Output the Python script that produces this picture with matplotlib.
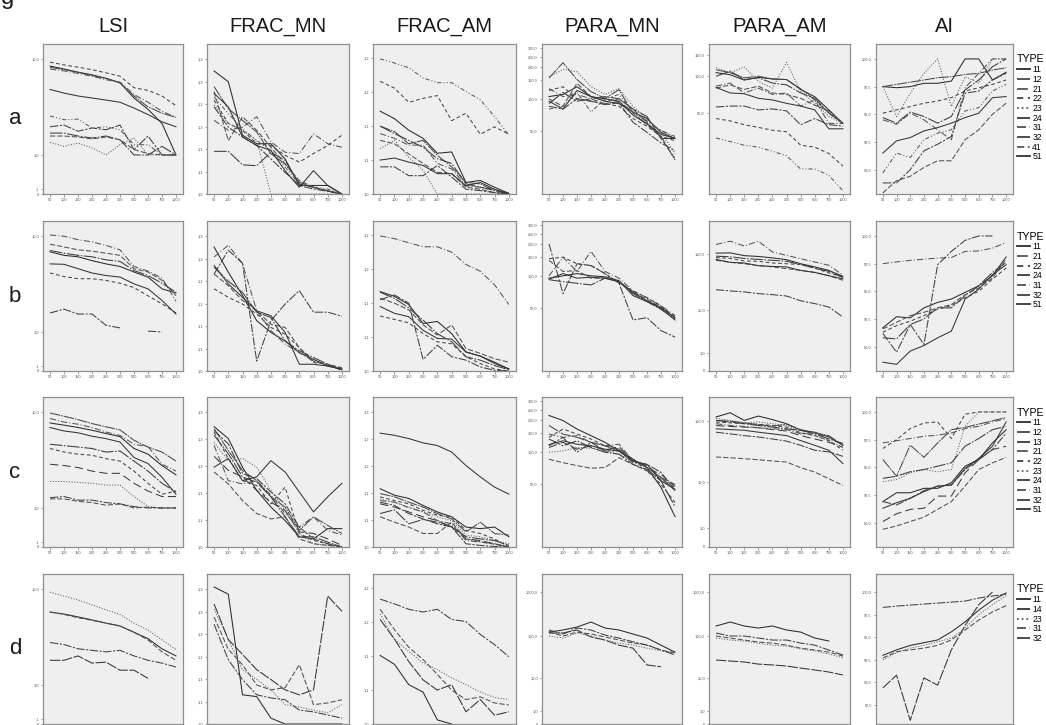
import numpy as np
import matplotlib.pyplot as plt
from matplotlib.ticker import NullLocator

plt.rcParams.update({'font.family': ['Liberation Sans', 'DejaVu Sans']})

nan = np.nan
sizes = ['50', '100', '150', '200', '250', '300', '500', '600', '750', '1000']
metrics = ['LSI', 'FRAC_MN', 'FRAC_AM', 'PARA_MN', 'PARA_AM', 'AI']
rows = ['a', 'b', 'c', 'd']

types_a = ['11', '12', '21', '22', '23', '24', '31', '32', '41', '51']
types_b = ['11', '21', '22', '24', '31', '32', '51']
types_c = ['11', '12', '13', '21', '22', '23', '24', '31', '32', '51']
types_d = ['11', '14', '23', '31', '32']

# ---------------- row a
a_lsi = {
    '11': [8.7, 8.2, 7.7, 7.3, 6.8, 6.2, 4.5, 3.5, 2.5, 1.0],
    '12': [8.5, 8.1, 7.7, 7.2, 6.8, 6.2, 4.7, 3.7, 3.2, 2.9],
    '21': [8.2, 7.9, 7.5, 7.1, 6.6, 6.3, 4.85, 4.1, 3.35, 2.9],
    '22': [9.4, 8.9, 8.5, 8.1, 7.6, 7.1, 5.6, 5.3, 4.7, 3.8],
    '23': [1.5, 1.33, 1.47, 1.27, 1.0, 1.4, 1.7, 1.0, 1.0, 1.0],
    '24': [1.95, 1.95, 1.8, 1.7, 1.8, 1.62, 1.0, 1.0, 1.33, 1.0],
    '31': [1.8, 1.8, 1.75, 1.66, 1.75, 1.62, 1.2, 1.05, 1.0, 1.0],
    '32': [2.3, 2.4, 2.05, 2.23, 2.13, 2.4, 1.2, 1.8, 1.0, 1.0],
    '41': [3.0, 2.74, 2.78, 2.23, 2.3, 2.13, 1.4, 1.4, 1.0, 1.0],
    '51': [5.4, 5.0, 4.7, 4.5, 4.3, 4.1, 3.6, 3.1, 2.6, 2.3],
}
a_frac_mn = {
    '11': [1.274, 1.25, 1.131, 1.112, 1.112, 1.078, 1.019, 1.019, 1.019, 1.0],
    '12': [1.239, 1.19, 1.164, 1.138, 1.09, 1.067, 1.026, 1.015, 1.007, 1.0],
    '21': [1.164, 1.142, 1.149, 1.172, 1.116, 1.093, 1.09, 1.134, 1.112, 1.104],
    '22': [1.209, 1.157, 1.142, 1.112, 1.108, 1.086, 1.071, 1.09, 1.108, 1.131],
    '23': [1.198, 1.157, 1.142, 1.119, 1.0, 1.0, 1.0, 1.0, 1.0, 1.0],
    '24': [1.095, 1.095, 1.065, 1.063, 1.093, 1.075, 1.022, 1.015, 1.007, 1.0],
    '31': [1.228, 1.119, 1.172, 1.142, 1.104, 1.067, 1.03, 1.015, 1.007, 1.0],
    '32': [1.194, 1.149, 1.127, 1.108, 1.078, 1.048, 1.019, 1.011, 1.006, 1.0],
    '41': [1.216, 1.179, 1.145, 1.119, 1.097, 1.06, 1.022, 1.015, 1.011, 1.0],
    '51': [1.224, 1.194, 1.127, 1.108, 1.097, 1.052, 1.015, 1.052, 1.019, 1.0],
}
a_frac_am = {
    '11': [1.122, 1.111, 1.094, 1.082, 1.06, 1.062, 1.017, 1.02, 1.01, 1.001],
    '12': [1.1, 1.092, 1.074, 1.079, 1.057, 1.04, 1.017, 1.015, 1.005, 1.0],
    '21': [1.089, 1.082, 1.072, 1.072, 1.045, 1.037, 1.012, 1.01, 1.005, 1.0],
    '22': [1.166, 1.156, 1.135, 1.141, 1.145, 1.108, 1.119, 1.088, 1.099, 1.088],
    '23': [1.067, 1.079, 1.054, 1.035, 1.0, 1.0, 1.0, 1.0, 1.0, 1.0],
    '24': [1.1, 1.089, 1.079, 1.069, 1.052, 1.045, 1.015, 1.01, 1.006, 1.001],
    '31': [1.079, 1.074, 1.059, 1.045, 1.032, 1.03, 1.01, 1.007, 1.002, 1.0],
    '32': [1.04, 1.04, 1.027, 1.027, 1.042, 1.025, 1.007, 1.005, 1.002, 1.0],
    '41': [1.199, 1.193, 1.186, 1.171, 1.164, 1.164, 1.151, 1.139, 1.114, 1.087],
    '51': [1.05, 1.053, 1.047, 1.042, 1.03, 1.03, 1.012, 1.017, 1.007, 1.0],
}
a_para_mn = {
    '11': [105, 110, 130, 105, 95, 90, 75, 65, 48, 42],
    '12': [157, 219, 152, 117, 101, 122, 73, 57, 44, 26],
    '21': [125, 105, 110, 100, 90, 95, 75, 62, 50, 44],
    '22': [120, 130, 100, 95, 90, 85, 65, 55, 44, 40],
    '23': [160, 190, 180, 130, 110, 125, 85, 65, 48, 30],
    '24': [90, 115, 95, 100, 105, 100, 80, 68, 42, 42],
    '31': [100, 85, 140, 105, 95, 100, 80, 60, 42, 27],
    '32': [85, 80, 100, 95, 88, 92, 60, 48, 38, 32],
    '41': [80, 85, 115, 75, 100, 110, 75, 60, 50, 43],
    '51': [95, 80, 120, 105, 100, 95, 70, 58, 46, 42],
}
a_para_am = {
    '11': [107, 103, 93, 98, 95, 94, 78, 68, 53, 41],
    '12': [113, 107, 97, 100, 95, 94, 79, 64, 50, 41],
    '21': [83, 88, 73, 80, 71, 73, 57, 64, 41, 41],
    '22': [45, 43, 40, 38, 36, 35, 27, 26, 23, 18],
    '23': [117, 107, 119, 91, 80, 130, 75, 60, 47, 41],
    '24': [100, 110, 94, 97, 88, 85, 73, 66, 50, 41],
    '31': [80, 85, 78, 83, 73, 71, 66, 58, 52, 41],
    '32': [56, 57, 57, 53, 54, 52, 40, 45, 40, 39],
    '41': [31, 29, 27, 26, 24, 22, 17, 17, 15, 11],
    '51': [81, 73, 72, 66, 64, 60, 57, 53, 37, 37],
}
a_ai = {
    '11': [97.5, 97.4, 97.5, 97.8, 97.8, 98.0, 100.0, 100.0, 98.1, 98.8],
    '12': [97.5, 97.7, 97.9, 98.1, 98.3, 98.4, 98.6, 98.7, 99.0, 99.2],
    '21': [94.5, 94.1, 95.1, 94.5, 93.6, 92.7, 97.4, 98.7, 100.0, 100.0],
    '22': [95.1, 95.4, 95.7, 96.0, 96.2, 96.5, 97.1, 97.4, 97.7, 98.1],
    '23': [97.5, 94.8, 96.9, 98.7, 100.0, 95.7, 98.4, 97.8, 100.0, 100.0],
    '24': [94.7, 94.2, 95.2, 94.8, 94.2, 94.8, 97.2, 98.1, 99.3, 100.0],
    '31': [87.9, 89.0, 89.4, 90.2, 90.8, 90.8, 92.7, 93.6, 95.0, 96.0],
    '32': [88.8, 88.8, 90.0, 91.7, 92.3, 93.0, 96.9, 97.1, 98.1, 98.7],
    '41': [89.7, 91.5, 91.1, 92.7, 93.3, 93.6, 95.3, 95.6, 97.1, 97.7],
    '51': [91.5, 92.6, 92.9, 93.5, 93.8, 94.2, 94.7, 95.1, 96.5, 96.6],
}

# ---------------- row b
b_lsi = {
    '11': [7.3, 6.8, 6.6, 6.1, 5.7, 5.4, 4.8, 4.3, 3.3, 3.0],
    '21': [10.2, 9.95, 9.3, 8.9, 8.3, 7.6, 5.4, 4.9, 4.2, 2.45],
    '22': [4.7, 4.35, 4.15, 4.15, 4.0, 3.75, 3.4, 2.8, 2.3, 1.8],
    '24': [7.5, 7.1, 6.8, 6.6, 6.2, 6.0, 4.95, 4.45, 3.75, 3.05],
    '31': [8.5, 8.05, 7.6, 7.4, 7.1, 6.8, 5.15, 4.8, 4.0, 2.8],
    '32': [1.8, 2.0, 1.75, 1.75, 1.25, 1.15, nan, 1.03, 1.0, nan],
    '51': [5.7, 5.65, 5.15, 4.7, 4.45, 4.3, 3.7, 3.3, 2.5, 1.75],
}
b_frac_mn = {
    '11': [1.276, 1.22, 1.168, 1.112, 1.086, 1.067, 1.041, 1.026, 1.011, 1.004],
    '21': [1.254, 1.28, 1.239, 1.134, 1.09, 1.06, 1.041, 1.022, 1.015, 1.004],
    '22': [1.183, 1.164, 1.149, 1.127, 1.097, 1.082, 1.052, 1.019, 1.015, 1.007],
    '24': [1.231, 1.2, 1.175, 1.131, 1.119, 1.067, 1.045, 1.03, 1.015, 1.001],
    '31': [1.216, 1.19, 1.157, 1.134, 1.104, 1.097, 1.052, 1.022, 1.013, 1.007],
    '32': [1.216, 1.269, 1.24, 1.022, 1.112, 1.149, 1.179, 1.131, 1.131, 1.122],
    '51': [1.235, 1.194, 1.164, 1.134, 1.123, 1.086, 1.015, 1.015, 1.011, 1.004],
}
b_frac_am = {
    '11': [1.117, 1.11, 1.098, 1.07, 1.073, 1.055, 1.028, 1.022, 1.013, 1.003],
    '21': [1.199, 1.195, 1.189, 1.183, 1.183, 1.175, 1.157, 1.147, 1.127, 1.098],
    '22': [1.081, 1.076, 1.071, 1.055, 1.043, 1.04, 1.021, 1.011, 1.003, 1.0],
    '24': [1.116, 1.107, 1.093, 1.075, 1.055, 1.043, 1.021, 1.016, 1.008, 1.002],
    '31': [1.107, 1.1, 1.09, 1.068, 1.053, 1.068, 1.033, 1.026, 1.018, 1.013],
    '32': [1.105, 1.112, 1.1, 1.017, 1.038, 1.021, 1.016, 1.006, 1.001, 1.0],
    '51': [1.095, 1.085, 1.08, 1.06, 1.048, 1.047, 1.028, 1.022, 1.011, 1.003],
}
b_para_mn = {
    '11': [95, 100, 105, 100, 98, 90, 65, 57, 49, 38],
    '21': [100, 150, 110, 170, 110, 95, 72, 62, 52, 42],
    '22': [145, 150, 130, 125, 105, 85, 72, 62, 52, 40],
    '24': [92, 88, 85, 82, 95, 88, 68, 57, 48, 39],
    '31': [140, 110, 112, 95, 95, 88, 70, 60, 50, 41],
    '32': [200, 68, 130, 125, 105, 85, 38, 40, 30, 26],
    '51': [93, 105, 95, 97, 95, 88, 70, 58, 50, 40],
}
b_para_am = {
    '11': [104, 105, 94, 91, 86, 80, 68, 60, 52, 41],
    '21': [147, 167, 138, 167, 109, 95, 83, 73, 64, 43],
    '22': [87, 84, 76, 75, 70, 68, 66, 57, 47, 40],
    '24': [92, 90, 84, 81, 78, 75, 66, 57, 50, 39],
    '31': [78, 72, 68, 63, 60, 56, 52, 48, 42, 35],
    '32': [23.8, 22.6, 21.7, 20.2, 19.4, 18.3, 15.0, 13.3, 11.5, 7.4],
    '51': [81, 72, 70, 63, 61, 60, 52, 48, 42, 37],
}
b_ai = {
    '11': [91.7, 92.7, 92.6, 93.5, 94.0, 94.3, 94.9, 95.5, 96.4, 98.1],
    '21': [97.5, 97.65, 97.8, 97.9, 98.0, 98.05, 98.6, 98.65, 98.9, 99.4],
    '22': [91.3, 91.9, 92.3, 92.8, 93.4, 93.7, 94.4, 95.0, 96.1, 97.1],
    '24': [90.8, 90.7, 92.0, 92.5, 93.5, 93.5, 94.6, 95.5, 96.7, 97.6],
    '31': [91.6, 92.2, 92.8, 93.1, 93.5, 93.8, 94.7, 95.3, 96.2, 97.9],
    '32': [91.2, 89.5, 92.0, 90.2, 97.4, 98.6, 99.6, 100.0, 100.0, nan],
    '51': [88.6, 88.4, 89.6, 90.1, 90.8, 91.4, 94.3, 95.2, 96.5, 97.4],
}

# ---------------- row c
c_lsi = {
    '11': [8.05, 7.7, 7.35, 6.95, 6.5, 6.1, 4.75, 4.2, 3.25, 2.6],
    '12': [9.8, 9.2, 8.6, 7.95, 7.45, 7.0, 5.65, 4.9, 4.4, 3.6],
    '13': [3.35, 3.25, 3.1, 2.85, 2.7, 2.7, 2.1, 1.7, 1.45, 1.45],
    '21': [8.8, 8.2, 7.85, 7.35, 6.7, 6.25, 5.2, 4.95, 3.35, 2.85],
    '22': [4.75, 4.4, 4.2, 4.1, 3.8, 3.6, 2.85, 2.1, 1.55, 1.7],
    '23': [2.2, 2.2, 2.15, 2.1, 2.0, 2.0, 1.45, 1.05, 1.0, 1.0],
    '24': [5.2, 5.05, 4.9, 4.75, 4.4, 4.5, 3.6, 2.85, 2.1, 1.65],
    '31': [1.35, 1.35, 1.25, 1.2, 1.1, 1.15, 1.0, 1.03, 1.0, 1.0],
    '32': [1.4, 1.45, 1.3, 1.3, 1.2, 1.15, 1.05, 1.0, 1.0, 1.0],
    '51': [7.35, 6.85, 6.6, 6.15, 5.85, 5.45, 3.9, 3.4, 2.45, 1.55],
}
c_frac_mn = {
    '11': [1.223, 1.201, 1.148, 1.105, 1.074, 1.049, 1.019, 1.015, 1.034, 1.034],
    '12': [1.219, 1.179, 1.142, 1.123, 1.093, 1.074, 1.031, 1.056, 1.04, 1.025],
    '13': [1.168, 1.142, 1.13, 1.105, 1.083, 1.068, 1.028, 1.025, 1.015, 1.003],
    '21': [1.188, 1.123, 1.117, 1.123, 1.096, 1.062, 1.037, 1.056, 1.031, 1.022],
    '22': [1.213, 1.164, 1.123, 1.114, 1.08, 1.111, 1.025, 1.012, 1.006, 1.0],
    '23': [1.194, 1.16, 1.164, 1.148, 1.105, 1.068, 1.025, 1.006, 1.003, 1.0],
    '24': [1.207, 1.173, 1.13, 1.12, 1.093, 1.056, 1.019, 1.019, 1.009, 1.0],
    '31': [1.139, 1.117, 1.086, 1.062, 1.052, 1.056, 1.015, 1.006, 1.003, 1.0],
    '32': [1.216, 1.191, 1.136, 1.127, 1.102, 1.08, 1.037, 1.015, 1.006, 1.0],
    '51': [1.148, 1.164, 1.123, 1.13, 1.16, 1.139, 1.102, 1.065, 1.093, 1.118],
}
c_frac_am = {
    '11': [1.108, 1.096, 1.09, 1.077, 1.065, 1.056, 1.037, 1.034, 1.037, 1.019],
    '12': [1.099, 1.093, 1.083, 1.074, 1.062, 1.052, 1.028, 1.046, 1.025, 1.022],
    '13': [1.08, 1.074, 1.065, 1.056, 1.049, 1.037, 1.015, 1.012, 1.006, 1.0],
    '21': [1.086, 1.083, 1.073, 1.065, 1.049, 1.043, 1.012, 1.009, 1.006, 1.0],
    '22': [1.093, 1.086, 1.08, 1.068, 1.059, 1.056, 1.031, 1.025, 1.015, 1.0],
    '23': [1.089, 1.083, 1.074, 1.065, 1.056, 1.049, 1.022, 1.019, 1.012, 1.006],
    '24': [1.062, 1.069, 1.043, 1.051, 1.046, 1.038, 1.019, 1.015, 1.012, 1.003],
    '31': [1.056, 1.046, 1.037, 1.025, 1.025, 1.046, 1.015, 1.01, 1.005, 1.0],
    '32': [1.083, 1.077, 1.062, 1.052, 1.043, 1.037, 1.006, 1.003, 1.001, 1.0],
    '51': [1.211, 1.207, 1.201, 1.193, 1.188, 1.176, 1.151, 1.13, 1.111, 1.098],
}
c_para_mn = {
    '11': [220, 197, 164, 142, 123, 102, 85, 71, 46, 24],
    '12': [177, 147, 137, 123, 114, 106, 85, 71, 57, 43],
    '13': [110, 123, 106, 114, 104, 112, 82, 74, 57, 49],
    '21': [147, 137, 142, 123, 114, 118, 82, 71, 61, 47],
    '22': [137, 164, 147, 132, 114, 102, 85, 66, 49, 33],
    '23': [99, 102, 110, 108, 102, 95, 82, 71, 57, 47],
    '24': [132, 114, 127, 110, 99, 95, 76, 68, 53, 30],
    '31': [85, 79, 74, 70, 71, 88, 76, 66, 55, 46],
    '32': [114, 137, 99, 123, 102, 102, 79, 76, 64, 43],
    '51': [117, 127, 118, 114, 106, 102, 82, 76, 53, 44],
}
c_para_am = {
    '11': [118, 138, 104, 122, 107, 92, 72, 67, 56, 41],
    '12': [104, 101, 95, 89, 84, 90, 74, 65, 59, 41],
    '13': [86, 83, 81, 79, 74, 70, 59, 52, 46, 38],
    '21': [92, 86, 83, 79, 76, 74, 63, 63, 56, 41],
    '22': [98, 95, 92, 90, 86, 81, 65, 59, 49, 34],
    '23': [112, 104, 95, 98, 92, 86, 67, 59, 49, 38],
    '24': [104, 98, 92, 86, 81, 76, 72, 63, 52, 44],
    '31': [26.3, 25.6, 24.7, 23.7, 22.6, 21.7, 17.5, 14.7, 11.3, 8.6],
    '32': [67, 63, 59, 56, 52, 48, 41, 34, 32, 27],
    '51': [76, 74, 72, 67, 63, 59, 49, 41, 34, 20.5],
}
c_ai = {
    '11': [91.9, 92.7, 92.7, 93.1, 93.1, 93.6, 95.1, 95.7, 97.2, 98.4],
    '12': [95.7, 94.2, 97.0, 95.9, 97.2, 98.4, 98.6, 98.9, 99.2, 99.5],
    '13': [90.1, 90.8, 91.2, 91.3, 92.4, 92.4, 94.5, 95.7, 96.6, 96.9],
    '21': [97.2, 97.4, 97.6, 97.8, 97.9, 98.1, 98.5, 98.7, 99.1, 99.4],
    '22': [96.7, 97.5, 98.5, 99.0, 99.1, 97.6, 99.8, 100.0, 100.0, 100.0],
    '23': [93.7, 93.9, 94.5, 94.8, 94.6, 94.8, 98.7, 100.0, 100.0, 100.0],
    '24': [94.0, 94.2, 94.6, 94.8, 95.1, 95.4, 96.9, 97.6, 98.4, 98.7],
    '31': [89.4, 89.7, 90.1, 90.5, 91.2, 91.9, 93.3, 94.8, 95.4, 95.9],
    '32': [91.9, 91.6, 92.2, 92.9, 93.3, 93.4, 94.8, 95.7, 96.6, 98.1],
    '51': [91.3, 91.8, 92.2, 92.8, 93.3, 93.4, 94.9, 95.8, 96.9, 99.1],
}

# ---------------- row d
d_lsi = {
    '11': [6.3, 6.05, 5.7, 5.35, 5.0, 4.7, 4.1, 3.55, 2.8, 2.35],
    '14': [2.1, 2.1, 2.35, 1.95, 2.0, 1.6, 1.6, 1.25, nan, nan],
    '23': [9.4, 8.7, 8.05, 7.3, 6.6, 6.0, 5.0, 4.3, 3.45, 2.75],
    '31': [6.3, 6.0, 5.6, 5.3, 5.0, 4.7, 4.1, 3.45, 2.6, 2.1],
    '32': [3.25, 3.1, 2.8, 2.7, 2.6, 2.7, 2.35, 2.1, 1.95, 1.75],
}
d_frac_mn = {
    '11': [1.305, 1.289, 1.065, 1.061, 1.013, 1.0, 1.0, 1.0, 1.0, 1.0],
    '14': [1.267, 1.188, 1.155, 1.121, 1.099, 1.076, 1.065, 1.076, 1.285, 1.251],
    '23': [1.256, 1.188, 1.121, 1.099, 1.076, 1.043, 1.038, 1.031, 1.025, 1.043],
    '31': [1.238, 1.166, 1.132, 1.087, 1.076, 1.081, 1.132, 1.043, 1.047, 1.054],
    '32': [1.222, 1.143, 1.099, 1.065, 1.058, 1.054, 1.031, 1.027, 1.02, 1.013],
}
d_frac_am = {
    '11': [1.101, 1.088, 1.058, 1.047, 1.006, 1.0, nan, nan, nan, nan],
    '14': [1.154, 1.125, 1.092, 1.065, 1.05, 1.058, 1.018, 1.036, 1.013, 1.018],
    '23': [1.162, 1.125, 1.107, 1.09, 1.08, 1.068, 1.058, 1.047, 1.039, 1.036],
    '31': [1.169, 1.139, 1.113, 1.095, 1.073, 1.05, 1.036, 1.04, 1.031, 1.028],
    '32': [1.184, 1.177, 1.169, 1.165, 1.169, 1.154, 1.151, 1.132, 1.117, 1.099],
}
d_para_mn = {
    '11': [122, 136, 159, 207, 151, 136, 110, 89, 61, 42],
    '14': [116, 116, 136, 94, 80, 61, 52, 21, 19, nan],
    '23': [99, 89, 116, 99, 80, 68, 61, 52, 45, 42],
    '31': [122, 99, 122, 110, 94, 80, 68, 62, 47, 40],
    '32': [136, 110, 151, 136, 104, 89, 73, 61, 47, 36],
}
d_para_am = {
    '11': [168, 207, 168, 151, 168, 136, 122, 89, 76, nan],
    '14': [27.5, 26, 24.7, 22, 21, 19.8, 17.7, 15.9, 14.2, 12],
    '23': [89, 80, 76, 68, 61, 58, 50, 45, 38, 31],
    '31': [99, 89, 80, 72, 68, 61, 52, 47, 42, 34],
    '32': [116, 99, 99, 89, 80, 80, 68, 61, 47, 36],
}
d_ai = {
    '11': [93.0, 93.6, 94.1, 94.4, 94.7, 95.6, 96.7, 98.0, 99.1, 99.9],
    '14': [89.4, 90.8, 85.8, 90.5, 89.7, 93.6, 96.3, 98.6, 100.0, nan],
    '23': [92.5, 93.3, 93.8, 94.1, 94.5, 94.9, 96.0, 97.5, 98.6, 99.6],
    '31': [92.7, 93.4, 93.6, 93.8, 94.1, 94.7, 95.8, 96.9, 97.8, 98.5],
    '32': [98.3, 98.45, 98.56, 98.67, 98.78, 98.89, 99.0, 99.34, 99.56, 99.78],
}

panels = {
    'a': [a_lsi, a_frac_mn, a_frac_am, a_para_mn, a_para_am, a_ai],
    'b': [b_lsi, b_frac_mn, b_frac_am, b_para_mn, b_para_am, b_ai],
    'c': [c_lsi, c_frac_mn, c_frac_am, c_para_mn, c_para_am, c_ai],
    'd': [d_lsi, d_frac_mn, d_frac_am, d_para_mn, d_para_am, d_ai],
}
row_types = {'a': types_a, 'b': types_b, 'c': types_c, 'd': types_d}

# line style per landscape type (SPSS-like grey patterns)
styles = {
    '11': ('-', '#2b2b2b'), '12': ((0, (10, 1, 1.5, 1)), '#484848'),
    '13': ((0, (8, 4)), '#3c3c3c'), '14': ((0, (10, 1.5)), '#333333'),
    '21': ((0, (6, 2, 1, 2)), '#555555'), '22': ((0, (3.5, 2.5)), '#444444'),
    '23': ((0, (1, 1.6)), '#5e5e5e'), '24': ((0, (12, 1.5, 1.5, 1.5)), '#3a3a3a'),
    '31': ((0, (5, 2)), '#505050'), '32': ((0, (8, 1.5, 2, 1.5)), '#404040'),
    '41': ((0, (4, 2, 1, 2, 1, 2)), '#5a5a5a'), '51': ('-', '#353535'),
}


def fwd(y):
    return np.log10(np.maximum(y, 0) + 1)


def inv(z):
    return 10 ** z - 1


def lab(v):
    if v == 0:
        return '0'
    s = f'{v:.1f}'.replace('.', ',')
    return s[1:] if s.startswith('0,') else s


def setup(ax, metric, row):
    if metric in ('LSI', 'PARA_MN', 'PARA_AM'):
        ax.set_yscale('function', functions=(fwd, inv))
    if metric == 'LSI':
        lim, ticks = (0, 13.35), [0, 0.1, 1, 10]
    elif metric == 'FRAC_MN':
        if row == 'c':
            lim, ticks = (1.0, 1.278), np.arange(1.0, 1.2501, 0.05)
        else:
            lim, ticks = (1.0, 1.334), np.arange(1.0, 1.3001, 0.05)
    elif metric == 'FRAC_AM':
        if row == 'c':
            lim, ticks = (1.0, 1.278), np.arange(1.0, 1.2501, 0.05)
        else:
            lim, ticks = (1.0, 1.221), np.arange(1.0, 1.2001, 0.05)
    elif metric == 'PARA_MN':
        if row == 'd':
            lim, ticks = (0, 2570), [0, 1, 10, 100, 1000]
        else:
            lim, ticks = (12, 328), [50, 100, 150, 200, 250, 300]
    elif metric == 'PARA_AM':
        lim, ticks = {'a': ((10.3, 183), [50, 100, 150]),
                      'b': ((0, 372), [0, 1, 10, 100]),
                      'c': ((0, 247), [0, 1, 10, 100]),
                      'd': ((0, 2570), [0, 1, 10, 100, 1000])}[row]
    else:
        if row == 'd':
            lim, ticks = (85.4, 102.0), [87.5, 90, 92.5, 95, 97.5, 100]
        else:
            lim, ticks = (87.8, 101.35), [90, 92.5, 95, 97.5, 100]
    ax.set_ylim(*lim)
    ax.set_yticks(ticks)
    ax.set_yticklabels([lab(t) for t in ticks])
    ax.yaxis.set_minor_locator(NullLocator())
    ax.set_xlim(-0.5, 9.5)
    ax.set_xticks(range(len(sizes)))
    ax.set_xticklabels(sizes)
    ax.tick_params(labelsize=2.8, length=1.8, width=0.4, pad=1.2,
                   colors='#555555')
    # bottom row: the size labels fall below the picture edge
    ax.tick_params(axis='x', labelbottom=(row != 'd'))
    ax.set_facecolor('#efefef')
    for s in ax.spines.values():
        s.set_color('#8f8f8f')
        s.set_linewidth(0.9)


W, H = 1046, 725
fig = plt.figure(figsize=(W / 100, H / 100), dpi=100)
col_left = [43, 207, 373, 542, 709, 876]
col_width = [140, 142, 143, 140, 141, 137]
row_top = [44, 221, 397, 574]
ph = 150

for r, row in enumerate(rows):
    for c, metric in enumerate(metrics):
        ax = fig.add_axes([col_left[c] / W, 1 - (row_top[r] + ph) / H,
                           col_width[c] / W, ph / H])
        setup(ax, metric, row)
        data = panels[row][c]
        for t in row_types[row]:
            ls, col = styles[t]
            ax.plot(range(len(sizes)), data[t], ls=ls, color=col, lw=0.75,
                    label=t)
        if r == 0:
            fig.text((col_left[c] + col_width[c] / 2) / W, 1 - 27 / H, metric,
                     ha='center', va='center', fontsize=14.5, color='#1a1a1a')
        if c == 0:
            fig.text(15 / W, 1 - (row_top[r] + ph / 2) / H, row, ha='center',
                     va='center', fontsize=16, color='#1a1a1a')
        if metric == 'AI':
            leg = ax.legend(loc='upper left', bbox_to_anchor=(1.03, 0.93),
                            frameon=False, fontsize=6.2, title='TYPE',
                            title_fontsize=7.6, handlelength=1.5,
                            handletextpad=0.25, labelspacing=0.08,
                            borderaxespad=0, borderpad=0, alignment='left')
            for h in leg.legend_handles:
                h.set_linewidth(1.3)

fig.text(0.5 / W, 1 - 4 / H, 'g', ha='left', va='baseline', fontsize=17,
         color='#1a1a1a')

fig.savefig('out.png', dpi=100)
